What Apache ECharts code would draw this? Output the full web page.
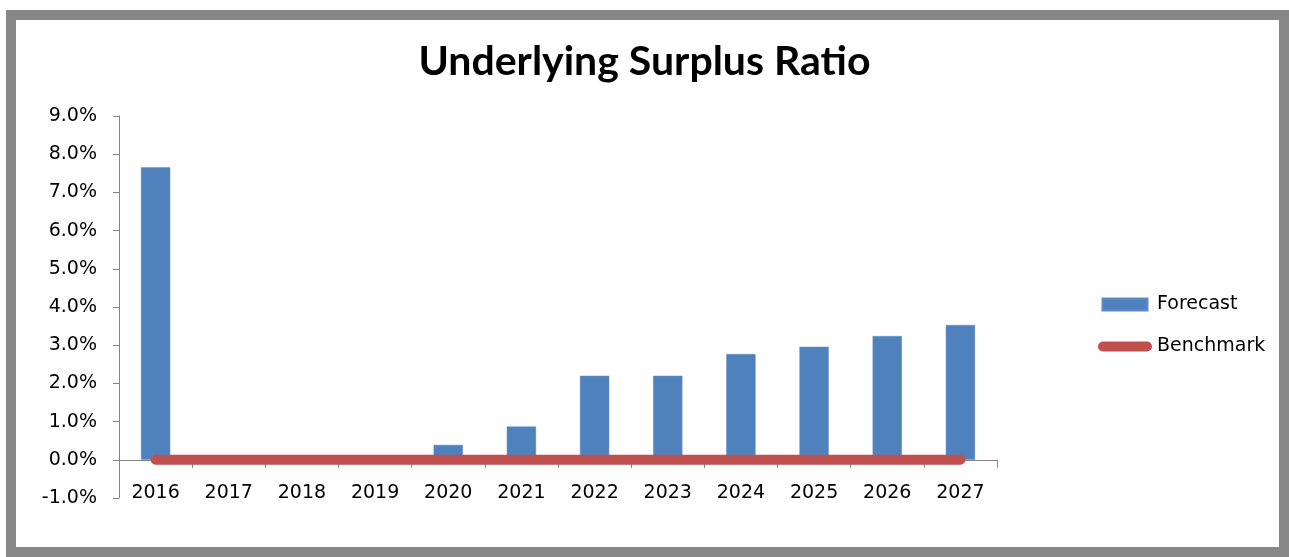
<!DOCTYPE html>
<html>
<head>
<meta charset="utf-8">
<script src="https://cdn.jsdelivr.net/npm/echarts@6/dist/echarts.min.js"></script>
<style>
html,body{margin:0;padding:0;background:#fff;}
#chart{width:1289px;height:557px;}
</style>
</head>
<body>
<div id="chart"></div>
<script>
const titleText = 'Underlying Surplus Ratio';
const categories = ['2016','2017','2018','2019','2020','2021','2022','2023','2024','2025','2026','2027'];
const forecast = [7.66, 0, 0, 0, 0.39, 0.87, 2.20, 2.20, 2.77, 2.96, 3.24, 3.53];
const benchmark = [0, 0, 0, 0, 0, 0, 0, 0, 0, 0, 0, 0];
const yMin = -1, yMax = 9, yStep = 1;

const chart = echarts.init(document.getElementById('chart'), null, {renderer: 'canvas'});
const font = '"DejaVu Sans", Verdana, sans-serif';
const titleFont = 'Lato, "Open Sans", sans-serif';
chart.setOption({
  animation: false,
  backgroundColor: '#fff',
  title: {
    text: titleText,
    left: 'center',
    top: 36,
    textStyle: {fontFamily: titleFont, fontWeight: 'bold', fontSize: 41, color: '#000'}
  },
  legend: {
    orient: 'vertical',
    left: 1093,
    top: 290,
    itemGap: 23,
    itemWidth: 54,
    itemHeight: 12,
    textStyle: {fontFamily: font, fontSize: 19, color: '#000'},
    data: [
      {name: 'Forecast', icon: 'path://M0,0 H45 V12 H0 Z'},
      {name: 'Benchmark', icon: 'path://M5,1 H50 A5,5 0 0 1 50,11 H5 A5,5 0 0 1 5,1 Z'}
    ]
  },
  graphic: [{
    type: 'rect',
    shape: {x: 11, y: 15, width: 1273, height: 537},
    style: {fill: 'none', stroke: '#878787', lineWidth: 10},
    silent: true,
    z: 100
  }],
  grid: {left: 119, right: 292, top: 116, bottom: 59, containLabel: false},
  xAxis: {
    type: 'category',
    data: categories,
    axisLine: {onZero: true, lineStyle: {color: '#868686', width: 1}},
    axisTick: {show: true, alignWithLabel: false, length: 8, lineStyle: {color: '#868686'}},
    axisLabel: {fontFamily: font, fontSize: 19, color: '#000', margin: -14},
    splitLine: {show: false}
  },
  yAxis: {
    type: 'value',
    min: yMin, max: yMax, interval: yStep,
    axisLine: {show: true, lineStyle: {color: '#868686'}},
    axisTick: {show: true, length: 6, lineStyle: {color: '#868686'}},
    axisLabel: {fontFamily: font, fontSize: 19, color: '#000', margin: 22,
      formatter: v => v.toFixed(1) + '%'},
    splitLine: {show: false}
  },
  series: [
    {
      name: 'Forecast',
      type: 'bar',
      data: forecast,
      barWidth: '40%',
      itemStyle: {color: '#4F81BD', borderColor: '#5B8CC6', borderWidth: 0.5},
      z: 2
    },
    {
      name: 'Benchmark',
      type: 'line',
      data: benchmark,
      symbol: 'none',
      showSymbol: false,
      lineStyle: {color: '#C0504D', width: 10, cap: 'round'},
      itemStyle: {color: '#C0504D'},
      z: 3
    }
  ]
});
</script>
</body>
</html>
